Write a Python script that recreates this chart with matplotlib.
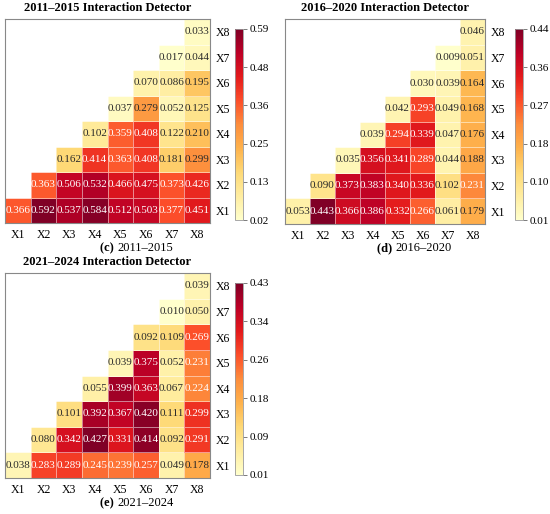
import numpy as np
import matplotlib
matplotlib.use("Agg")
import matplotlib.pyplot as plt

plt.rcParams['font.family'] = ['Liberation Serif', 'DejaVu Serif']

labels = ['X1', 'X2', 'X3', 'X4', 'X5', 'X6', 'X7', 'X8']

# each row Xi holds values for columns Xi..X8
p2011 = [
    [0.366, 0.592, 0.537, 0.584, 0.512, 0.503, 0.377, 0.451],
    [0.363, 0.506, 0.532, 0.466, 0.475, 0.373, 0.426],
    [0.162, 0.414, 0.363, 0.408, 0.181, 0.299],
    [0.102, 0.359, 0.408, 0.122, 0.210],
    [0.037, 0.279, 0.052, 0.125],
    [0.070, 0.086, 0.195],
    [0.017, 0.044],
    [0.033],
]
p2016 = [
    [0.053, 0.443, 0.366, 0.386, 0.332, 0.266, 0.061, 0.179],
    [0.090, 0.373, 0.383, 0.340, 0.336, 0.102, 0.231],
    [0.035, 0.356, 0.341, 0.289, 0.044, 0.188],
    [0.039, 0.294, 0.339, 0.047, 0.176],
    [0.042, 0.293, 0.049, 0.168],
    [0.030, 0.039, 0.164],
    [0.009, 0.051],
    [0.046],
]
p2021 = [
    [0.038, 0.283, 0.289, 0.245, 0.239, 0.257, 0.049, 0.178],
    [0.080, 0.342, 0.427, 0.331, 0.414, 0.092, 0.291],
    [0.101, 0.392, 0.367, 0.420, 0.111, 0.299],
    [0.055, 0.399, 0.363, 0.067, 0.224],
    [0.039, 0.375, 0.052, 0.231],
    [0.092, 0.109, 0.269],
    [0.010, 0.050],
    [0.039],
]

titles = ['2011\u20132015 Interaction Detector',
          '2016\u20132020 Interaction Detector',
          '2021\u20132024 Interaction Detector']
tags = ['(c)', '(d)', '(e)']
periods = ['2011\u20132015', '2016\u20132020', '2021\u20132024']

W, H = 550, 514
fig = plt.figure(figsize=(W / 100, H / 100), dpi=100)

# pixel boxes: axes (left, top, right, bottom), colorbar (left, top, right, bottom), caption centre
boxes = [
    ((5, 19, 210, 223), (235, 29, 243, 220), (135, 248)),
    ((285, 19, 485, 224), (515, 29, 523, 220), (413, 248)),
    ((5, 273, 210, 478), (235, 283, 243, 475), (135, 503)),
]


def to_fig(b):
    l, t, r, bt = b
    return [l / W, 1 - bt / H, (r - l) / W, (bt - t) / H]


def build(rows):
    n = len(labels)
    m = np.full((n, n), np.nan)
    for i, row in enumerate(rows):
        for k, v in enumerate(row):
            m[i, i + k] = v
    return m


cmap = plt.get_cmap('YlOrRd')
for idx, rows in enumerate([p2011, p2016, p2021]):
    mat = build(rows)
    vmin, vmax = np.nanmin(mat), np.nanmax(mat)
    axb, cbb, cap = boxes[idx]
    ax = fig.add_axes(to_fig(axb))
    cax = fig.add_axes(to_fig(cbb))
    masked = np.ma.masked_invalid(mat)
    mesh = ax.pcolormesh(np.arange(9), np.arange(9), masked, cmap=cmap,
                         vmin=vmin, vmax=vmax, edgecolors=(1, 1, 1, 0.5),
                         linewidth=0.6)
    ax.set_xlim(0, 8)
    ax.set_ylim(0, 8)
    for i in range(8):
        for j in range(8):
            v = mat[i, j]
            if np.isnan(v):
                continue
            norm = (v - vmin) / (vmax - vmin)
            ax.text(j + 0.5, i + 0.5, f'{v:.3f}', ha='center', va='center',
                    fontsize=8, color='white' if norm > 0.5 else '#2a2a2a')
    ax.set_xticks(np.arange(8) + 0.5)
    ax.set_xticklabels(labels, fontsize=8.5)
    ax.set_yticks(np.arange(8) + 0.5)
    ax.set_yticklabels(labels, fontsize=8.5)
    ax.yaxis.tick_right()
    ax.tick_params(length=0, pad=4)
    for s in ax.spines.values():
        s.set_color('#888888')
        s.set_linewidth(0.8)
    ax.set_title(titles[idx], fontsize=9, fontweight='bold', pad=6)

    cb = fig.colorbar(mesh, cax=cax)
    ticks = np.linspace(vmin, vmax, 6)
    cb.set_ticks(ticks)
    cb.set_ticklabels([f'{t:.2f}' for t in ticks])
    cb.ax.tick_params(labelsize=8, length=3, width=0.6, color='#666666', pad=1.5)
    cb.outline.set_edgecolor('#999999')
    cb.outline.set_linewidth(0.6)

    cx, cy = cap
    split = cx - 18
    fig.text(split / W, 1 - cy / H, tags[idx] + ' ', ha='right', va='center',
             fontsize=9, fontweight='bold')
    fig.text(split / W, 1 - cy / H, periods[idx], ha='left', va='center',
             fontsize=9)

fig.savefig('out.png', dpi=100)
